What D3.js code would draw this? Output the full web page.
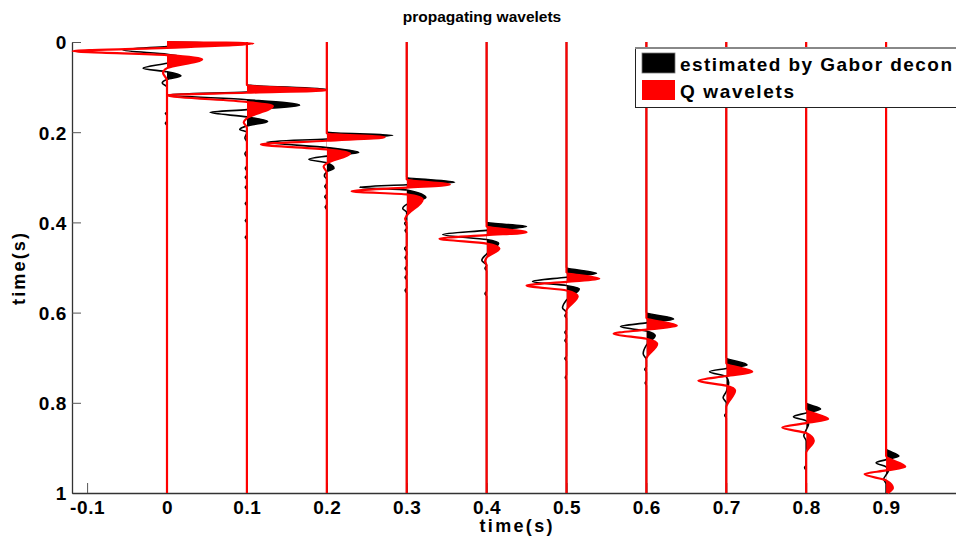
<!DOCTYPE html>
<html>
<head>
<meta charset="utf-8">
<script src="https://cdn.jsdelivr.net/npm/d3@7"></script>
<style>
  html, body { margin: 0; padding: 0; background: #fff; }
  svg { display: block; }
  text { font-family: "Liberation Sans", Arial, sans-serif; font-weight: bold; fill: #000; }
</style>
</head>
<body>
<script>
// ---------------- data ----------------
const traceOffsets = [0, 0.1, 0.2, 0.3, 0.4, 0.5, 0.6, 0.7, 0.8, 0.9];

// [time (s), amplitude (in x-axis units)] picks for the Gabor-estimated wavelets (black)
const gaborWavelets = [
  [[0,0],[0.002,0.06],[0.01,0],[0.018,-0.055],[0.027,0],[0.037,0.025],[0.047,0],[0.058,-0.03],[0.066,0],[0.075,0.0175],[0.083,0],[0.091,-0.006],[0.1,0],[0.155,0],[0.158,-0.002],[0.163,0],[0.175,0],[0.18,-0.002],[0.185,0]],
  [[0.095,0],[0.105,0.1],[0.111,0],[0.117,-0.1],[0.128,0],[0.14,0.066],[0.15,0],[0.156,-0.046],[0.166,0],[0.176,0.026],[0.186,0],[0.194,-0.009],[0.2,0],[0.213,-0.0025],[0.222,0],[0.24,0],[0.248,-0.0025],[0.256,0],[0.274,0],[0.28,-0.002],[0.286,0],[0.295,0],[0.3,-0.002],[0.305,0],[0.317,0],[0.322,-0.002],[0.327,0],[0.353,0],[0.358,-0.002],[0.363,0],[0.391,0],[0.396,-0.002],[0.401,0],[0.428,0],[0.433,-0.002],[0.438,0]],
  [[0.2,0],[0.207,0.0825],[0.215,0],[0.222,-0.075],[0.234,0],[0.245,0.04],[0.253,0],[0.26,-0.0225],[0.268,0],[0.28,0.009],[0.288,0],[0.297,-0.003],[0.305,0],[0.313,0],[0.32,-0.0025],[0.327,0],[0.337,0],[0.343,-0.0025],[0.35,0],[0.36,0],[0.366,-0.002],[0.372,0]],
  [[0.3,0],[0.311,0.06],[0.3165,0],[0.322,-0.059],[0.328,0],[0.345,0.024],[0.36,0],[0.369,-0.005],[0.378,0],[0.395,0],[0.402,-0.0025],[0.41,0],[0.413,0],[0.418,-0.002],[0.424,0],[0.452,0],[0.458,-0.0025],[0.465,0],[0.472,0],[0.478,-0.002],[0.484,0],[0.496,0],[0.502,-0.002],[0.508,0],[0.516,0],[0.522,-0.002],[0.528,0],[0.545,0],[0.551,-0.002],[0.557,0]],
  [[0.4,0],[0.409,0.05],[0.4176,0],[0.427,-0.055],[0.438,0],[0.446,0.015],[0.47,0],[0.484,-0.006],[0.495,0],[0.502,-0.002],[0.508,0],[0.552,0],[0.558,-0.002],[0.564,0]],
  [[0.5,0],[0.513,0.0375],[0.5215,0],[0.531,-0.0425],[0.54,0],[0.547,0.016],[0.572,0],[0.589,-0.005],[0.6,0],[0.607,-0.002],[0.613,0],[0.638,0],[0.644,-0.002],[0.65,0],[0.656,0],[0.662,-0.002],[0.668,0],[0.696,0],[0.702,-0.002],[0.708,0],[0.738,0],[0.744,-0.0015],[0.75,0]],
  [[0.6,0],[0.614,0.034],[0.6227,0],[0.631,-0.0325],[0.641,0],[0.651,0.011],[0.672,0],[0.691,-0.004],[0.705,0],[0.72,0],[0.726,-0.002],[0.732,0],[0.75,0],[0.756,-0.0015],[0.762,0]],
  [[0.7,0],[0.716,0.026],[0.724,0],[0.731,-0.021],[0.742,0],[0.755,0.003],[0.775,0],[0.789,-0.004],[0.8,0],[0.822,0],[0.828,-0.002],[0.834,0]],
  [[0.8,0],[0.814,0.018],[0.8225,0],[0.831,-0.016],[0.84,0],[0.847,0.003],[0.86,0],[0.873,-0.003],[0.885,0],[0.938,0],[0.944,-0.002],[0.95,0]],
  [[0.902,0],[0.918,0.016],[0.926,0],[0.933,-0.0125],[0.942,0],[0.95,0.003],[0.96,0],[0.969,-0.003],[0.98,0]]
];

// [time (s), amplitude] picks for the Q wavelets (red)
const qWavelets = [
  [[0,0],[0.003,0.108],[0.013,0],[0.02,-0.118],[0.029,0],[0.038,0.044],[0.058,0],[0.068,-0.005],[0.085,0]],
  [[0.096,0],[0.107,0.1],[0.1125,0],[0.118,-0.1],[0.133,0],[0.142,0.0325],[0.169,0],[0.178,-0.004],[0.19,0]],
  [[0.203,0],[0.211,0.0725],[0.219,0],[0.227,-0.0825],[0.238,0],[0.247,0.029],[0.269,0],[0.276,-0.004],[0.29,0]],
  [[0.305,0],[0.316,0.054],[0.323,0],[0.331,-0.069],[0.338,0],[0.349,0.02],[0.385,0],[0.392,-0.002],[0.4,0]],
  [[0.409,0],[0.422,0.05],[0.4284,0],[0.436,-0.059],[0.447,0],[0.458,0.016],[0.478,0],[0.486,-0.002],[0.495,0]],
  [[0.511,0],[0.525,0.041],[0.532,0],[0.54,-0.05],[0.551,0],[0.564,0.014],[0.596,0]],
  [[0.612,0],[0.629,0.038],[0.6377,0],[0.647,-0.041],[0.658,0],[0.669,0.0135],[0.703,0]],
  [[0.713,0],[0.731,0.0325],[0.7406,0],[0.751,-0.035],[0.762,0],[0.773,0.011],[0.81,0]],
  [[0.815,0],[0.836,0.0275],[0.845,0],[0.855,-0.03],[0.867,0],[0.884,0.0095],[0.911,0]],
  [[0.918,0],[0.942,0.024],[0.95,0],[0.958,-0.027],[0.972,0],[0.989,0.0085],[1,0.002]]
];

const xTicks = [-0.1, 0, 0.1, 0.2, 0.3, 0.4, 0.5, 0.6, 0.7, 0.8, 0.9];
const xTickLabels = ["-0.1", "0", "0.1", "0.2", "0.3", "0.4", "0.5", "0.6", "0.7", "0.8", "0.9"];
const yTicks = [0, 0.2, 0.4, 0.6, 0.8, 1];
const yTickLabels = ["0", "0.2", "0.4", "0.6", "0.8", "1"];
const legendLabels = ["estimated by Gabor decon", "Q wavelets"];
const seriesColors = ["#000000", "#ff0000"];

// ---------------- drawing ----------------
const W = 956, H = 548;
const svg = d3.select("body").append("svg").attr("width", W).attr("height", H);
svg.append("rect").attr("width", W).attr("height", H).attr("fill", "#fff");

const x = d3.scaleLinear().domain([-0.1189, 1.0]).range([72, 966]);
const y = d3.scaleLinear().domain([0, 1]).range([42, 493]);

// axes
const yAxis = d3.axisLeft(y).tickValues(yTicks).tickFormat((d, i) => yTickLabels[i])
  .tickSize(-9).tickSizeOuter(0).tickPadding(5);
const xAxis = d3.axisBottom(x).tickValues(xTicks).tickFormat((d, i) => xTickLabels[i])
  .tickSize(-10).tickSizeOuter(0).tickPadding(8);

const gy = svg.append("g").attr("transform", `translate(${x.range()[0]},0)`).call(yAxis);
const gx = svg.append("g").attr("transform", `translate(0,${y.range()[1]})`).call(xAxis);
[gx, gy].forEach(g => {
  g.select(".domain").attr("stroke", "#333").attr("stroke-width", 1.3);
  g.selectAll(".tick line").attr("stroke", "#555").attr("stroke-width", 1);
  g.selectAll(".tick text").style("font-size", "19px").style("font-weight", "bold")
    .style("letter-spacing", "0.6px")
    .style("font-family", '"Liberation Sans", Arial, sans-serif').attr("fill", "#000");
});
gy.selectAll(".tick text").attr("dy", "0.36em");

function fullTrace(picks) {
  const pts = picks.slice();
  if (pts[0][0] > y.domain()[0]) pts.unshift([y.domain()[0], 0]);
  if (pts[pts.length - 1][0] < y.domain()[1]) pts.push([y.domain()[1], 0]);
  return pts;
}

const defs = svg.append("defs");
traceOffsets.forEach((off, k) => {
  defs.append("clipPath").attr("id", "pos" + k)
    .append("rect").attr("x", x(off)).attr("y", 0).attr("width", W - x(off)).attr("height", H);
});

const tracesG = svg.append("g");
[gaborWavelets, qWavelets].forEach((series, s) => {
  const col = seriesColors[s];
  series.forEach((picks, k) => {
    const off = traceOffsets[k];
    const pts = fullTrace(picks);
    const area = d3.area()
      .y(d => y(d[0]))
      .x0(x(off))
      .x1(d => x(off + d[1]))
      .curve(d3.curveMonotoneY);
    const line = d3.line()
      .y(d => y(d[0]))
      .x(d => x(off + d[1]))
      .curve(d3.curveMonotoneY);
    tracesG.append("path").attr("d", area(pts)).attr("fill", col)
      .attr("clip-path", `url(#pos${k})`);
    tracesG.append("path").attr("d", line(pts)).attr("fill", "none")
      .attr("stroke", col).attr("stroke-width", s === 0 ? 1.6 : 2.2)
      .attr("stroke-linejoin", "round");
  });
});

// title and axis labels
svg.append("text").attr("x", 482).attr("y", 22).attr("text-anchor", "middle")
  .style("font-size", "15.5px").text("propagating wavelets");
svg.append("text").attr("x", 516).attr("y", 532).attr("text-anchor", "middle")
  .style("font-size", "18px").attr("textLength", 73).text("time(s)");
svg.append("text").attr("transform", "translate(25,269) rotate(-90)").attr("text-anchor", "middle")
  .style("font-size", "18px").attr("textLength", 72).text("time(s)");

// legend
const legendWidths = [272, 114];
const lg = svg.append("g");
lg.append("rect").attr("x", 635.5).attr("y", 48.5).attr("width", 330).attr("height", 59)
  .attr("fill", "#fff").attr("stroke", "#222").attr("stroke-width", 1);
lg.append("line").attr("x1", 635).attr("x2", W).attr("y1", 48).attr("y2", 48)
  .attr("stroke", "#888").attr("stroke-width", 2);
legendLabels.forEach((lab, i) => {
  lg.append("rect").attr("x", 642).attr("y", 53 + i * 27).attr("width", 33).attr("height", 20)
    .attr("fill", seriesColors[i]).attr("stroke", i === 0 ? "#777" : "none").attr("stroke-width", 0.8);
  lg.append("text").attr("x", 680).attr("y", 71 + i * 27)
    .style("font-size", "19px").attr("textLength", legendWidths[i]).text(lab);
});
</script>
</body>
</html>
